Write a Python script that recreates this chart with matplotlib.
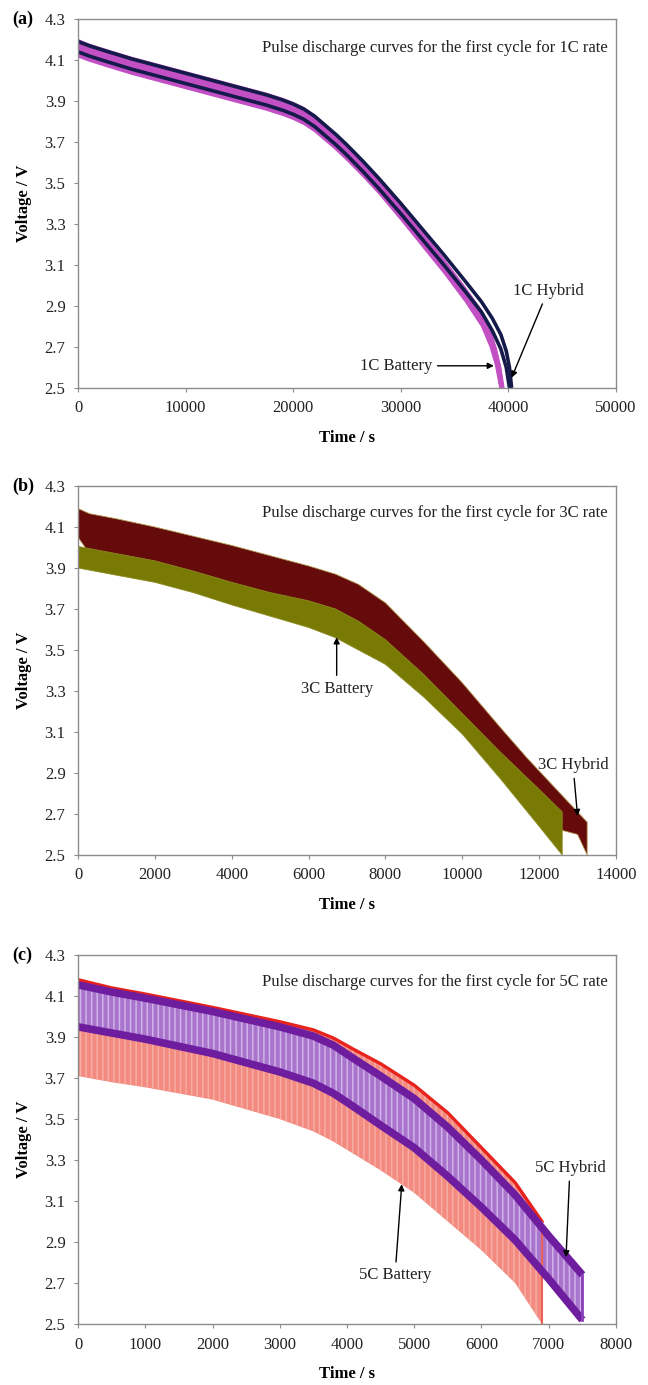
import numpy as np
import matplotlib
matplotlib.use("Agg")
import matplotlib.pyplot as plt

plt.rcParams['font.family'] = ['Liberation Serif', 'DejaVu Serif']
plt.rcParams['hatch.linewidth'] = 1.1

# ---------------- (a) 1C ----------------
a_hyb_hi_t = [0, 1000, 2500, 5000, 7500, 10000, 12500, 15000, 17500, 19000, 20000, 21000,
              22000, 23000, 24000, 25000, 26500, 28000, 30000, 32000, 34000, 36000, 37500,
              38500, 39300, 39800, 40100, 40300]
a_hyb_hi_v = [4.19, 4.17, 4.145, 4.105, 4.07, 4.035, 4.0, 3.965, 3.93, 3.905, 3.885, 3.86,
              3.825, 3.78, 3.735, 3.685, 3.605, 3.52, 3.40, 3.275, 3.15, 3.02, 2.92,
              2.84, 2.76, 2.68, 2.60, 2.50]
a_hyb_lo_t = [0, 1000, 2500, 5000, 7500, 10000, 12500, 15000, 17500, 19000, 20000, 21000,
              22000, 23000, 24000, 25000, 26500, 28000, 30000, 32000, 34000, 36000, 37500,
              38500, 39300, 39800, 40100]
a_hyb_lo_v = [4.14, 4.12, 4.095, 4.055, 4.02, 3.985, 3.95, 3.915, 3.88, 3.855, 3.835, 3.81,
              3.775, 3.73, 3.685, 3.635, 3.555, 3.47, 3.35, 3.225, 3.10, 2.97, 2.87,
              2.78, 2.69, 2.60, 2.50]
a_bat_hi_t = [0, 1000, 2500, 5000, 7500, 10000, 12500, 15000, 17500, 19000, 20000, 21000,
              22000, 23000, 24000, 25000, 26500, 28000, 30000, 32000, 34000, 36000, 37500,
              38300, 38900, 39300, 39600]
a_bat_hi_v = [4.20, 4.178, 4.153, 4.113, 4.078, 4.043, 4.008, 3.973, 3.938, 3.913, 3.893,
              3.868, 3.832, 3.786, 3.74, 3.69, 3.61, 3.52, 3.39, 3.26, 3.13, 2.99, 2.88,
              2.79, 2.69, 2.60, 2.50]
a_bat_lo_t = [0, 1000, 2500, 5000, 7500, 10000, 12500, 15000, 17500, 19000, 20000, 21000,
              22000, 23000, 24000, 25000, 26500, 28000, 30000, 32000, 34000, 36000, 37500,
              38300, 38800, 39200]
a_bat_lo_v = [4.115, 4.095, 4.07, 4.03, 3.995, 3.96, 3.925, 3.89, 3.855, 3.83, 3.81, 3.785,
              3.75, 3.705, 3.66, 3.61, 3.53, 3.445, 3.32, 3.19, 3.06, 2.92, 2.80,
              2.70, 2.61, 2.50]

# ---------------- (b) 3C ----------------
b_hyb_t = [0, 300, 1000, 2000, 3000, 4000, 5000, 6000, 6700, 7300, 8000, 9000, 10000,
           11000, 11700, 12000, 12600, 13000, 13250]
b_hyb_hi = [4.19, 4.165, 4.14, 4.10, 4.055, 4.01, 3.96, 3.91, 3.87, 3.82, 3.73, 3.54, 3.34,
            3.12, 2.97, 2.91, 2.79, 2.71, 2.66]
b_hyb_lo = [4.05, 3.97, 3.94, 3.905, 3.855, 3.80, 3.75, 3.71, 3.67, 3.61, 3.52, 3.35, 3.16,
            2.98, 2.85, 2.79, 2.62, 2.60, 2.50]
b_bat_t = [0, 1000, 2000, 3000, 4000, 5000, 6000, 6700, 7300, 8000, 9000, 10000, 11000,
           12000, 12600]
b_bat_hi = [4.005, 3.97, 3.935, 3.885, 3.83, 3.78, 3.74, 3.70, 3.64, 3.55, 3.38, 3.19, 3.00,
            2.82, 2.71]
b_bat_lo = [3.90, 3.865, 3.83, 3.78, 3.72, 3.665, 3.61, 3.56, 3.50, 3.43, 3.27, 3.09, 2.87,
            2.64, 2.50]

# ---------------- (c) 5C ----------------
c_bat_t = [0, 500, 1000, 2000, 3000, 3500, 3800, 4100, 4500, 5000, 5500, 6000, 6500, 6900]
c_bat_hi = [4.18, 4.14, 4.11, 4.045, 3.975, 3.935, 3.895, 3.84, 3.77, 3.665, 3.53, 3.36,
            3.19, 3.00]
c_bat_lo = [3.71, 3.68, 3.655, 3.595, 3.50, 3.44, 3.39, 3.33, 3.25, 3.14, 3.00, 2.86, 2.70,
            2.50]
c_hyb_t = [0, 500, 1000, 2000, 3000, 3500, 3800, 4100, 4500, 5000, 5500, 6000, 6500, 7000,
           7500]
c_hyb_hi = [4.155, 4.12, 4.09, 4.025, 3.95, 3.905, 3.86, 3.795, 3.71, 3.60, 3.46, 3.30, 3.13,
            2.93, 2.74]
c_hyb_lo = [3.95, 3.92, 3.89, 3.82, 3.73, 3.675, 3.625, 3.56, 3.47, 3.36, 3.22, 3.07, 2.91,
            2.72, 2.52]

yticks = [2.5, 2.7, 2.9, 3.1, 3.3, 3.5, 3.7, 3.9, 4.1, 4.3]

fig = plt.figure(figsize=(6.48, 13.85), dpi=100)
axA = fig.add_axes([0.1204, 0.7199, 0.8302, 0.2664])
axB = fig.add_axes([0.1204, 0.3827, 0.8302, 0.2664])
axC = fig.add_axes([0.1204, 0.0440, 0.8302, 0.2664])


def style(ax, xmax, xstep, rate, letter, title_v):
    ax.set_xlim(0, xmax)
    ax.set_ylim(2.5, 4.3)
    ax.set_xticks(np.arange(0, xmax + 1, xstep))
    ax.set_yticks(yticks)
    ax.set_yticklabels([f'{v:.1f}' for v in yticks])
    for s in ax.spines.values():
        s.set_color('#8c8c8c')
        s.set_linewidth(1.0)
    ax.tick_params(direction='out', length=3, width=0.8, color='#8c8c8c',
                   labelsize=12, pad=6, labelcolor='#222222')
    ax.set_xlabel('Time / s', fontsize=12, fontweight='bold', labelpad=10)
    ax.set_ylabel('Voltage / V', fontsize=12, fontweight='bold', labelpad=9)
    ax.text(0.985, title_v, f'Pulse discharge curves for the first cycle for {rate} rate',
            transform=ax.get_yaxis_transform(), ha='right', va='center', fontsize=12,
            color='#222222')
    pos = ax.get_position()
    fig.text(12 / 648, pos.y1, letter, ha='left', va='center', fontsize=13,
             fontweight='bold')


def band(ax, t1, v1, t2, v2, **kw):
    ax.fill(np.r_[t1, t2[::-1]], np.r_[v1, v2[::-1]], **kw)


arrow = dict(arrowstyle='-|>', color='black', lw=1.0, mutation_scale=9,
             shrinkA=2, shrinkB=0)

# (a)
band(axA, np.array(a_bat_hi_t), np.array(a_bat_hi_v), np.array(a_bat_lo_t),
     np.array(a_bat_lo_v), color='#c24fc4', lw=0.8)
axA.plot(a_hyb_hi_t, a_hyb_hi_v, color='#141a4a', lw=2.6, solid_capstyle='butt')
axA.plot(a_hyb_lo_t, a_hyb_lo_v, color='#141a4a', lw=2.6, solid_capstyle='butt')
style(axA, 50000, 10000, '1C', '(a)', 4.16)
axA.annotate('1C Battery', xy=(38650, 2.608), xytext=(32900, 2.608), ha='right',
             va='center', fontsize=12, color='#222222', arrowprops=arrow)
axA.annotate('1C Hybrid', xy=(40300, 2.55), xytext=(43680, 2.975), ha='center',
             va='center', fontsize=12, color='#222222', arrowprops=arrow)

# (b)
band(axB, np.array(b_hyb_t), np.array(b_hyb_hi), np.array(b_hyb_t), np.array(b_hyb_lo),
     facecolor='#650b0b', edgecolor='#b49a50', lw=0.6)
band(axB, np.array(b_bat_t), np.array(b_bat_hi), np.array(b_bat_t), np.array(b_bat_lo),
     facecolor='#787a04', edgecolor='#8c8a20', lw=0.6)
style(axB, 14000, 2000, '3C', '(b)', 4.17)
axB.annotate('3C Battery', xy=(6731, 3.562), xytext=(6731, 3.31), ha='center',
             va='center', fontsize=12, color='#222222', arrowprops=arrow)
axB.annotate('3C Hybrid', xy=(13000, 2.69), xytext=(12880, 2.94), ha='center',
             va='center', fontsize=12, color='#222222', arrowprops=arrow)

# (c)
band(axC, np.array(c_bat_t), np.array(c_bat_hi), np.array(c_bat_t), np.array(c_bat_lo),
     facecolor='#f38a80', edgecolor='#f7aca4', hatch='|||', lw=0)
axC.plot(c_bat_t, c_bat_hi, color='#e8221c', lw=2.4)
axC.plot([c_bat_t[-1], c_bat_t[-1]], [c_bat_lo[-1], c_bat_hi[-1]], color='#ec5f58', lw=1.5)
band(axC, np.array(c_hyb_t), np.array(c_hyb_hi), np.array(c_hyb_t), np.array(c_hyb_lo),
     facecolor='#a874cc', edgecolor='#d2b2ea', hatch='|||', lw=0)
axC.plot(c_hyb_t, c_hyb_hi, color='#6e1d9e', lw=5.5, solid_capstyle='butt')
axC.plot(c_hyb_t, c_hyb_lo, color='#6e1d9e', lw=5.5, solid_capstyle='butt')
axC.plot([c_hyb_t[-1], c_hyb_t[-1]], [c_hyb_lo[-1], c_hyb_hi[-1]], color='#8a40b8', lw=2)
style(axC, 8000, 1000, '5C', '(c)', 4.17)
axC.annotate('5C Battery', xy=(4814, 3.182), xytext=(4714, 2.737), ha='center',
             va='center', fontsize=12, color='#222222', arrowprops=arrow)
axC.annotate('5C Hybrid', xy=(7257, 2.826), xytext=(7316, 3.263), ha='center',
             va='center', fontsize=12, color='#222222', arrowprops=arrow)

fig.savefig('out.png', dpi=100)
